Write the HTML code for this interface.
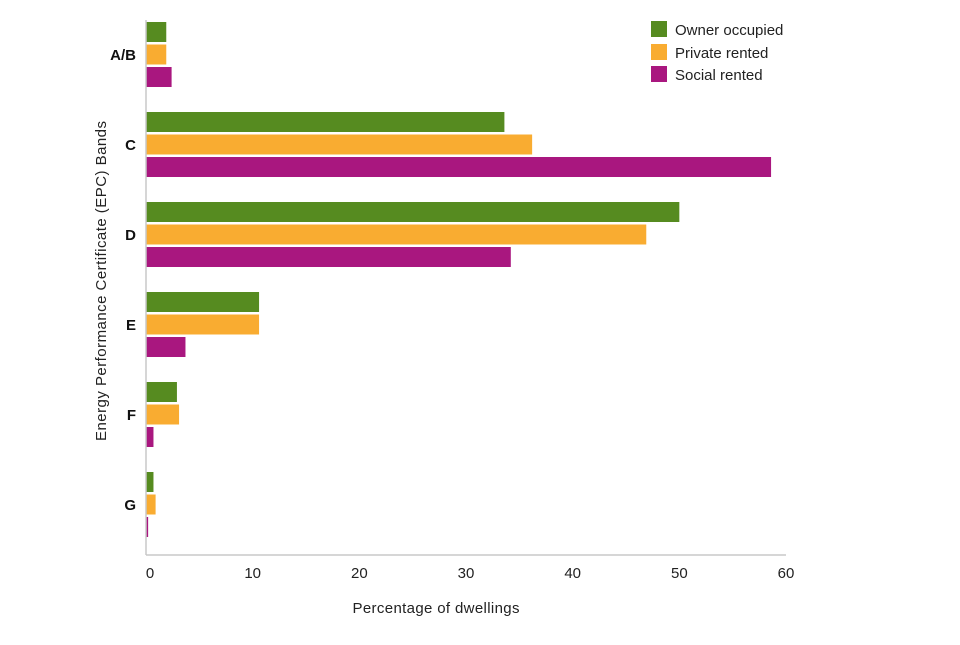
<!DOCTYPE html>
<html><head><meta charset="utf-8"><style>
body{margin:0;background:#fff;font-family:"Liberation Sans",sans-serif}
</style></head><body>
<svg id="chart" width="960" height="640" viewBox="0 0 960 640">
<g id="bars"></g>
<line x1="146" y1="20" x2="146" y2="555" stroke="#c8c8c8" stroke-width="1.5"/>
<line x1="146" y1="555" x2="786" y2="555" stroke="#c8c8c8" stroke-width="1.5"/>
<g id="xticks"></g>
<g id="ycats"></g>
<text x="436" y="613" font-size="15" fill="#222" text-anchor="middle" textLength="167">Percentage of dwellings</text>
<text transform="translate(106,281) rotate(-90)" font-size="15" fill="#222" text-anchor="middle" textLength="320">Energy Performance Certificate (EPC) Bands</text>
<g>
<rect x="651" y="21" width="16" height="16" fill="#568b20"/>
<text x="675" y="35" font-size="15" fill="#222">Owner occupied</text>
<rect x="651" y="44" width="16" height="16" fill="#f9ac31"/>
<text x="675" y="58" font-size="15" fill="#222">Private rented</text>
<rect x="651" y="66" width="16" height="16" fill="#a9177f"/>
<text x="675" y="80" font-size="15" fill="#222">Social rented</text>
</g>
</svg>
<script>
const categories = ["A/B","C","D","E","F","G"];
const owner = [1.9,33.6,50.0,10.6,2.9,0.7];
const privateRented = [1.9,36.2,46.9,10.6,3.1,0.9];
const social = [2.4,58.6,34.2,3.7,0.7,0.2];
const xTicks = [0,10,20,30,40,50,60];
const NS="http://www.w3.org/2000/svg";
const x = v => 146 + v*(640/60);
const yGroup = i => 22 + i*90;
const series=[{vals:owner,color:"#568b20",name:"owner"},{vals:privateRented,color:"#f9ac31",name:"private"},{vals:social,color:"#a9177f",name:"social"}];
const bars=document.getElementById("bars");
categories.forEach((c,i)=>{
  series.forEach((s,j)=>{
    const r=document.createElementNS(NS,"rect");
    r.setAttribute("x",x(0));
    r.setAttribute("y",yGroup(i)+j*22.5);
    r.setAttribute("width",Math.max(0,x(s.vals[i])-x(0)));
    r.setAttribute("height",20);
    r.setAttribute("fill",s.color);
    
    
    bars.appendChild(r);
  });
  const t=document.createElementNS(NS,"text");
  t.setAttribute("x",136);t.setAttribute("y",yGroup(i)+38);
  t.setAttribute("text-anchor","end");t.setAttribute("font-size","15");t.setAttribute("font-weight","bold");t.setAttribute("fill","#111");
  t.textContent=c;
  
  
  document.getElementById("ycats").appendChild(t);
});
xTicks.forEach(v=>{
  const t=document.createElementNS(NS,"text");
  t.setAttribute("x",x(v)+(v===0?4:0));t.setAttribute("y",578);
  t.setAttribute("text-anchor","middle");t.setAttribute("font-size","15");t.setAttribute("fill","#222");
  t.textContent=v;
  
  
  document.getElementById("xticks").appendChild(t);
});
</script>
</body></html>
